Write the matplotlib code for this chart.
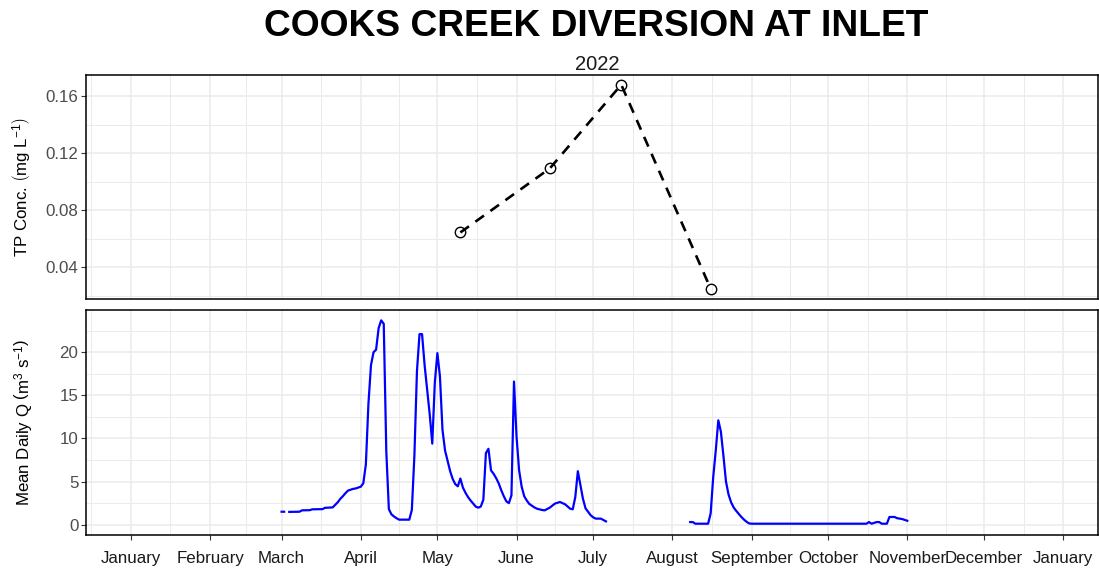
import numpy as np
import pandas as pd
import matplotlib
matplotlib.use("Agg")
import matplotlib.pyplot as plt
import matplotlib.dates as mdates

plt.rcParams['font.family'] = ['Liberation Sans', 'DejaVu Sans']
plt.rcParams['mathtext.fontset'] = 'custom'
plt.rcParams['mathtext.rm'] = 'Liberation Sans'
plt.rcParams['mathtext.it'] = 'Liberation Sans:italic'

# TP samples
tp_dates = ['2022-05-10', '2022-06-14', '2022-07-12', '2022-08-16']
tp_values = [0.0645, 0.1094, 0.1682, 0.0250]

# mean daily discharge (nan = no record)
q_dates = [
    '2022-03-01', '2022-03-02', '2022-03-03', '2022-03-04', '2022-03-08', '2022-03-09',
    '2022-03-12', '2022-03-13', '2022-03-17', '2022-03-18', '2022-03-21', '2022-03-22',
    '2022-03-23', '2022-03-24', '2022-03-25', '2022-03-26', '2022-03-27', '2022-03-28',
    '2022-03-29', '2022-03-30', '2022-03-31', '2022-04-01', '2022-04-02', '2022-04-03',
    '2022-04-04', '2022-04-05', '2022-04-06', '2022-04-07', '2022-04-08', '2022-04-09',
    '2022-04-10', '2022-04-11', '2022-04-12', '2022-04-13', '2022-04-14', '2022-04-15',
    '2022-04-16', '2022-04-20', '2022-04-21', '2022-04-22', '2022-04-23', '2022-04-24',
    '2022-04-25', '2022-04-26', '2022-04-27', '2022-04-28', '2022-04-29', '2022-04-30',
    '2022-05-01', '2022-05-02', '2022-05-03', '2022-05-04', '2022-05-05', '2022-05-06',
    '2022-05-07', '2022-05-08', '2022-05-09', '2022-05-10', '2022-05-11', '2022-05-12',
    '2022-05-13', '2022-05-14', '2022-05-15', '2022-05-16', '2022-05-17', '2022-05-18',
    '2022-05-19', '2022-05-20', '2022-05-21', '2022-05-22', '2022-05-23', '2022-05-24',
    '2022-05-25', '2022-05-26', '2022-05-27', '2022-05-28', '2022-05-29', '2022-05-30',
    '2022-05-31', '2022-06-01', '2022-06-02', '2022-06-03', '2022-06-04', '2022-06-05',
    '2022-06-06', '2022-06-07', '2022-06-08', '2022-06-09', '2022-06-11', '2022-06-12',
    '2022-06-14', '2022-06-16', '2022-06-18', '2022-06-20', '2022-06-22', '2022-06-23',
    '2022-06-24', '2022-06-25', '2022-06-26', '2022-06-27', '2022-06-28', '2022-06-29',
    '2022-06-30', '2022-07-01', '2022-07-02', '2022-07-04', '2022-07-06', '2022-07-07',
    '2022-08-08', '2022-08-09', '2022-08-10', '2022-08-15', '2022-08-16', '2022-08-17',
    '2022-08-18', '2022-08-19', '2022-08-20', '2022-08-21', '2022-08-22', '2022-08-23',
    '2022-08-24', '2022-08-25', '2022-08-26', '2022-08-27', '2022-08-28', '2022-08-29',
    '2022-08-30', '2022-08-31', '2022-09-01', '2022-10-16', '2022-10-17', '2022-10-18',
    '2022-10-20', '2022-10-21', '2022-10-22', '2022-10-24', '2022-10-25', '2022-10-27',
    '2022-10-28', '2022-10-30', '2022-11-01',
]
q_values = [
    1.50, 1.50, np.nan, 1.48, 1.50, 1.66,
    1.68, 1.78, 1.80, 1.95, 2.00, 2.30,
    2.60, 3.00, 3.30, 3.65, 3.95, 4.05,
    4.15, 4.20, 4.30, 4.40, 4.80, 7.00,
    14.0, 18.5, 20.0, 20.3, 22.8, 23.7,
    23.3, 8.50, 1.80, 1.20, 0.95, 0.75,
    0.58, 0.58, 1.70, 8.00, 17.8, 22.1,
    22.1, 18.5, 15.6, 12.8, 9.40, 16.5,
    19.9, 17.2, 11.0, 8.60, 7.40, 6.20,
    5.30, 4.70, 4.45, 5.35, 4.30, 3.70,
    3.20, 2.80, 2.45, 2.10, 1.97, 2.10,
    2.90, 8.30, 8.80, 6.30, 5.90, 5.40,
    4.80, 4.00, 3.30, 2.70, 2.50, 3.40,
    16.6, 10.2, 6.30, 4.40, 3.30, 2.80,
    2.40, 2.20, 2.00, 1.85, 1.70, 1.66,
    1.97, 2.44, 2.63, 2.36, 1.85, 1.78,
    3.20, 6.20, 4.60, 3.00, 1.90, 1.50,
    1.10, 0.85, 0.70, 0.70, 0.38, np.nan,
    0.30, 0.30, 0.11, 0.11, 1.30, 5.50,
    8.60, 12.1, 10.8, 8.00, 5.00, 3.50,
    2.60, 2.00, 1.60, 1.25, 0.90, 0.60,
    0.35, 0.15, 0.11, 0.11, 0.30, 0.11,
    0.30, 0.30, 0.11, 0.11, 0.89, 0.89,
    0.75, 0.65, 0.45,
]

tp_x = pd.to_datetime(tp_dates)
q_x = pd.to_datetime(q_dates)

month_starts = pd.date_range('2021-12-01', '2023-02-01', freq='MS')
minor = [a + (b - a) / 2 for a, b in zip(month_starts[:-1], month_starts[1:])]

fig = plt.figure(figsize=(10.99, 5.68), dpi=100)
ax1 = fig.add_axes([86 / 1099, 1 - 299 / 568, 1012 / 1099, 224 / 568])
ax2 = fig.add_axes([86 / 1099, 1 - 535 / 568, 1012 / 1099, 225 / 568])

grid_c = '#EBEBEB'
for ax in (ax1, ax2):
    ax.set_xlim(pd.Timestamp('2021-12-14 10:00'), pd.Timestamp('2023-01-14 16:00'))
    ax.xaxis.set_major_locator(mdates.MonthLocator())
    ax.xaxis.set_minor_locator(matplotlib.ticker.FixedLocator(mdates.date2num(minor)))
    ax.grid(True, which='major', color=grid_c, linewidth=1.1)
    ax.grid(True, which='minor', color=grid_c, linewidth=0.7)
    ax.set_axisbelow(True)
    for s in ax.spines.values():
        s.set_color('black')
        s.set_linewidth(1.1)
    ax.tick_params(axis='y', which='major', length=3.5, width=0.8, color='#333333',
                   labelsize=12.2, labelcolor='#4D4D4D', pad=2)
    ax.tick_params(axis='both', which='minor', length=0)

ax1.plot(tp_x, tp_values, linestyle=(0, (4, 3)), color='black', linewidth=1.9,
         marker='o', markersize=7.5, markerfacecolor='none', markeredgecolor='black',
         markeredgewidth=1.0, dash_capstyle='butt')
ax1.set_ylim(0.0178, 0.1750)
ax1.set_yticks([0.04, 0.08, 0.12, 0.16])
ax1.set_yticks([0.02, 0.06, 0.10, 0.14], minor=True)
ax1.tick_params(axis='x', which='major', length=0, labelbottom=False)
ax1.set_ylabel(r'TP Conc. $\left(\mathrm{mg\ L^{-1}}\right)$', fontsize=12.2)
ax1.yaxis.set_label_coords(-0.0525, 0.5)

ax2.plot(q_x, q_values, color='#0000FF', linewidth=1.6, solid_joinstyle='round')
ax2.set_ylim(-1.2, 24.9)
ax2.set_yticks([0, 5, 10, 15, 20])
ax2.set_yticks([2.5, 7.5, 12.5, 17.5, 22.5], minor=True)
ax2.xaxis.set_major_formatter(mdates.DateFormatter('%B'))
ax2.tick_params(axis='x', which='major', length=3.5, width=0.8, color='#333333',
                labelsize=12.2, labelcolor='#1A1A1A', pad=8)
ax2.set_ylabel(r'Mean Daily Q $\left(\mathrm{m^{3}\ s^{-1}}\right)$', fontsize=12.2)
ax2.yaxis.set_label_coords(-0.0505, 0.5)

fig.text(596.5 / 1099, 1 - 27 / 568, 'COOKS CREEK DIVERSION AT INLET',
         ha='center', va='center', fontsize=26.7, fontweight='bold', color='black')
fig.text(597 / 1099, 1 - 65 / 568, '2022', ha='center', va='center', fontsize=14.5, color='#1A1A1A')

fig.savefig('out.png', dpi=100)
